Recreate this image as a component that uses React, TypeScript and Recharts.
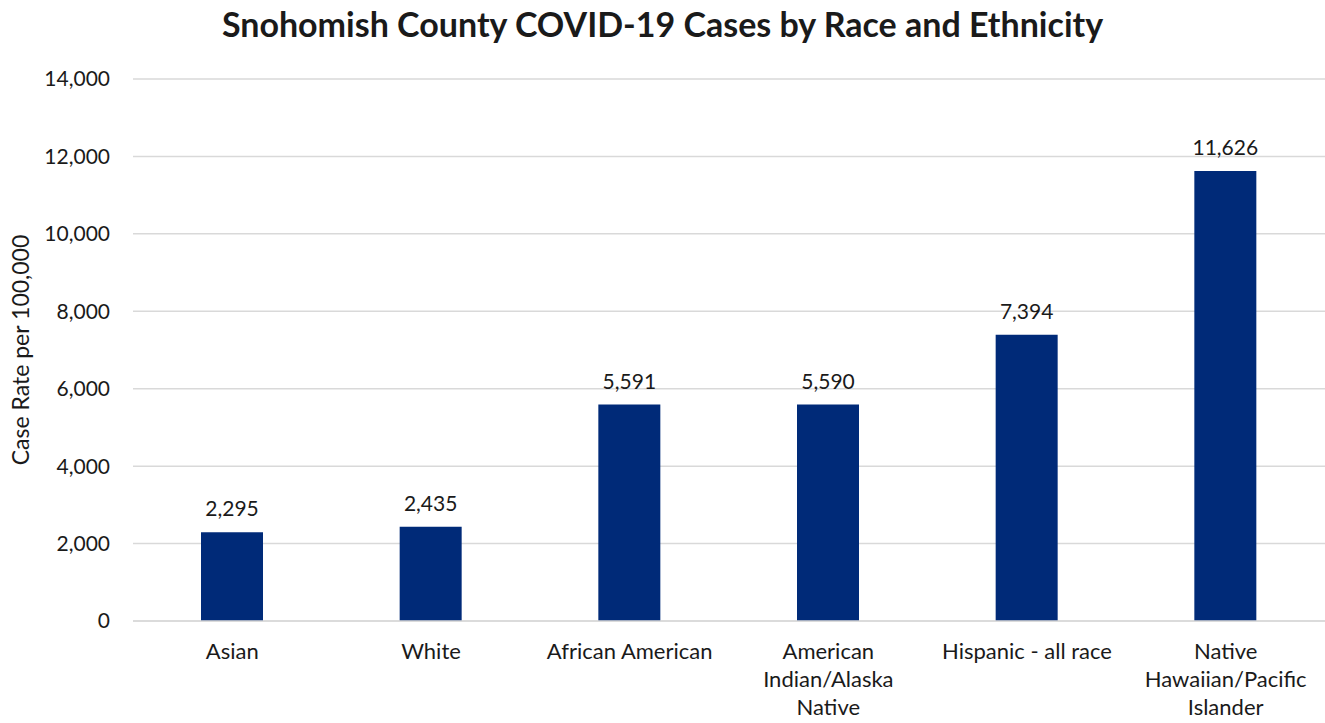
import React from 'react';
import {
  BarChart, Bar, XAxis, YAxis, CartesianGrid, LabelList, Label,
} from 'recharts';

const categories = [
  'Asian',
  'White',
  'African American',
  'American\nIndian/Alaska\nNative',
  'Hispanic - all race',
  'Native\nHawaiian/Pacific\nIslander',
];
const caseRates = [2295, 2435, 5591, 5590, 7394, 11626];
const yTicks = [0, 2000, 4000, 6000, 8000, 10000, 12000, 14000];

const data = categories.map((c, i) => ({ category: c, rate: caseRates[i] }));

const FONT = 'Lato, "Open Sans", sans-serif';
const TEXT = '#1a1a1a';

const CategoryTick = ({ x, y, payload }: any) => {
  const lines = String(payload.value).split('\n');
  return (
    <text x={x} y={y} textAnchor="middle" fill={TEXT} fontSize={22} fontFamily={FONT}>
      {lines.map((l, i) => (
        <tspan key={i} x={x} dy={i === 0 ? 30 : 28}>{l}</tspan>
      ))}
    </text>
  );
};

export default function App() {
  return (
    <div style={{ position: 'absolute', left: 0, top: 0, width: 1325, height: 723, background: '#fff' }}>
      <div
        style={{
          position: 'absolute', left: 0, top: 3, width: 1325, textAlign: 'center',
          fontFamily: FONT, fontWeight: 700, fontSize: 34, color: TEXT,
        }}
      >
        Snohomish County COVID-19 Cases by Race and Ethnicity
      </div>
      <BarChart
        width={1325}
        height={723}
        data={data}
        margin={{ top: 79, right: 0, bottom: 0, left: 0 }}
        barSize={62}
      >
        <CartesianGrid vertical={false} stroke="#d9d9d9" strokeWidth={1.5} />
        <XAxis
          dataKey="category"
          interval={0}
          tickLine={false}
          axisLine={{ stroke: '#d9d9d9', strokeWidth: 1.5 }}
          tick={<CategoryTick />}
          height={102}
        />
        <YAxis
          width={133}
          domain={[0, 14000]}
          ticks={yTicks}
          tickLine={false}
          axisLine={false}
          tickMargin={17}
          tickFormatter={(v: number) => v.toLocaleString('en-US')}
          tick={{ fill: TEXT, fontSize: 21, fontFamily: FONT }}
        >
          <Label
            value="Case Rate per 100,000"
            angle={-90}
            position="center"
            dx={-46}
            style={{ fill: TEXT, fontSize: 23, fontFamily: FONT, textAnchor: 'middle' }}
          />
        </YAxis>
        <Bar dataKey="rate" fill="#002A78" isAnimationActive={false}>
          <LabelList
            dataKey="rate"
            position="top"
            offset={16}
            formatter={(v: any) => Number(v).toLocaleString('en-US')}
            style={{ fill: TEXT, fontSize: 21, fontFamily: FONT }}
          />
        </Bar>
      </BarChart>
    </div>
  );
}
